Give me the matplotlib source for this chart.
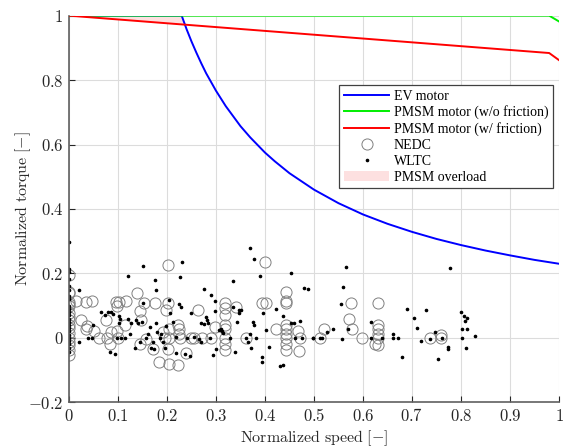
import matplotlib
matplotlib.use("Agg")
import matplotlib.pyplot as plt
import numpy as np
from matplotlib.patches import Patch
from matplotlib.lines import Line2D

# ---- data ----
ev_x = [0, 0.23, 0.235, 0.24, 0.25, 0.26, 0.27, 0.28, 0.3, 0.32, 0.35, 0.37, 0.4, 0.42, 0.45, 0.5, 0.55, 0.6,
        0.65, 0.7, 0.75, 0.8, 0.85, 0.9, 0.95, 1.0]
ev_y = [1, 1, 0.979, 0.958, 0.92, 0.885, 0.852, 0.821, 0.767, 0.719, 0.657, 0.622, 0.575, 0.548, 0.511, 0.46,
        0.418, 0.383, 0.354, 0.329, 0.307, 0.288, 0.271, 0.256, 0.242, 0.23]
pm_x = [0, 0.98, 1.0]
pm_y = [1, 1, 0.982]
pmf_x = [0, 0.98, 1.0]
pmf_y = [1, 0.884, 0.862]

nedc_x = [0]*17 + [0.014, 0.034, 0.046, 0.024, 0.037, 0.034, 0.052, 0.061, 0.078, 0.076, 0.086, 0.083,
          0.095, 0.097, 0.103, 0.116, 0.114, 0.098, 0.1, 0.139, 0.144, 0.148, 0.154, 0.144, 0.158,
          0.175, 0.171, 0.184, 0.192, 0.195, 0.202, 0.202, 0.199, 0.205, 0.205, 0.202, 0.204, 0.222,
          0.222, 0.224, 0.224, 0.226, 0.239, 0.25, 0.263, 0.256, 0.271, 0.289, 0.297, 0.318, 0.318,
          0.318, 0.318, 0.318, 0.318, 0.318, 0.318, 0.341, 0.362, 0.393, 0.403, 0.401, 0.423,
          0.442, 0.442, 0.442, 0.442, 0.442, 0.442, 0.442, 0.442, 0.442, 0.468, 0.471, 0.469, 0.512,
          0.521, 0.576, 0.572, 0.578, 0.599, 0.631, 0.631, 0.631, 0.631, 0.631, 0.624, 0.631, 0.737,
          0.759, 0.759]
nedc_y = [0.195, 0.143, 0.14, 0.11, 0.105, 0.1, 0.078, 0.065, 0.055, 0.04, 0.03, 0.015, 0, -0.012, -0.023, -0.038, -0.054,
          0.115, 0.112, 0.115, 0.055, 0.036, 0.026, 0.022, 0, 0, 0.055, 0.019, -0.018,
          0.112, 0.098, 0.112, 0.115, 0.039, 0.022, 0, 0.138, 0.084, 0.055, 0.109, -0.018, -0.005,
          0.109, -0.036, -0.075, 0.019, 0, 0.226, 0.107, 0.088, 0.026, 0, -0.036, -0.08, -0.085,
          0.039, 0.026, 0.013, 0, -0.047, 0, 0.086, 0, 0, 0, 0.034, 0.109, 0.094,
          0.07, 0.039, 0.026, 0, -0.018, -0.038, 0.096, 0, 0.109, 0.109, 0.236, 0.026,
          0.143, 0.115, 0.109, 0.039, 0.026, 0.013, 0, -0.018, -0.038, 0.022, 0, -0.041, 0,
          0.026, 0.109, 0.057, 0.026, 0, 0.109, 0.039, 0.026, 0.013, 0, -0.018, -0.023, 0,
          0.008, 0]

wltc_x = [0]*23 + [0.02, 0.02, 0.039, 0.046, 0.049, 0.066, 0.073, 0.08, 0.086, 0.09, 0.083, 0.093, 0.097,
          0.103, 0.103, 0.105, 0.107, 0.114, 0.12, 0.12, 0.124, 0.127, 0.134, 0.137, 0.141, 0.144, 0.15,
          0.151, 0.152, 0.158, 0.161, 0.165, 0.168, 0.171, 0.173, 0.175, 0.177, 0.178, 0.18, 0.185, 0.188,
          0.192, 0.195, 0.199, 0.205, 0.207, 0.212, 0.219, 0.219, 0.224, 0.226, 0.229, 0.231, 0.236, 0.241,
          0.246, 0.25, 0.256, 0.265, 0.269, 0.275, 0.27, 0.275, 0.28, 0.282, 0.284, 0.287, 0.29, 0.293,
          0.299, 0.299, 0.301, 0.307, 0.311, 0.313, 0.314, 0.328, 0.335, 0.335, 0.338, 0.343, 0.347, 0.348,
          0.352, 0.361, 0.365, 0.369, 0.37, 0.372, 0.377, 0.376, 0.377, 0.382, 0.389, 0.393, 0.394, 0.395,
          0.403, 0.408, 0.423, 0.431,
          0.454, 0.437, 0.437, 0.453, 0.46, 0.461, 0.471, 0.475, 0.48, 0.488, 0.497, 0.499, 0.512, 0.516,
          0.526, 0.539, 0.555, 0.56, 0.565, 0.558, 0.57, 0.616, 0.616, 0.638, 0.662, 0.662, 0.671, 0.68,
          0.689, 0.705, 0.71, 0.718, 0.728, 0.737, 0.746, 0.754, 0.761, 0.773, 0.773, 0.778, 0.801, 0.807,
          0.808, 0.812, 0.802, 0.812, 0.803, 0.81, 0.829]
wltc_y = [0.298, 0.215, 0.205, 0.184, 0.16, 0.15, 0.13, 0.12, 0.1, 0.09, 0.08, 0.07, 0.06, 0.05, 0.04, 0.03,
          0.02, 0.01, 0, -0.01, -0.02, -0.03, -0.045,
          0.148, -0.012, 0, 0, 0.039, 0.081, 0.07, 0.081, 0.081, 0.074, -0.044, -0.049, 0,
          0.067, 0.045, 0.057, 0, 0, 0.193, 0.06, 0.013, 0.045, -0.033, 0.055, 0.045, -0.012, 0.05,
          0.223, 0.107, 0, 0.013, 0.034, -0.033, -0.012, -0.036, 0.179, 0.15, 0.045, 0.019, 0, 0.013,
          -0.012, -0.03, 0.036, 0.119, 0.076, 0.05, 0.003, -0.047, 0.104, 0.188, 0.096, 0.236, -0.049, 0,
          -0.057, 0.076, 0.003, -0.002, -0.012, 0.153, 0.047, 0.042, 0.065, 0.055, 0.045, 0, 0.133, -0.054,
          0.115, 0.084, -0.036, 0.024, 0.026, 0.022, 0.016, 0, 0.177, 0.096, -0.044, 0.049, 0.076, 0.088,
          0.088, 0, -0.012, 0.013, 0.28, -0.033, 0.244, 0.05, 0.039, 0, 0.192, -0.059, -0.075, 0.076,
          0.024, -0.028, 0.091, -0.088,
          0.202, 0.067, -0.085, 0.045, 0.045, 0, 0.053, 0, 0.155, 0.151, 0, 0, 0, 0,
          0.019, 0.026, 0.105, 0.159, 0.221, -0.002, 0.026, 0.05, 0, 0, 0.013, 0, 0, -0.059,
          0.091, 0.063, 0.031, -0.009, 0.086, -0.002, 0.019, -0.067, 0, -0.028, -0.036, 0.216, 0.081, 0.067,
          0.053, 0.063, 0.026, 0.026, 0, -0.033, 0.006]

xticks = [0, 0.1, 0.2, 0.3, 0.4, 0.5, 0.6, 0.7, 0.8, 0.9, 1]
yticks = [-0.2, 0, 0.2, 0.4, 0.6, 0.8, 1]
xtick_labels = ["0", "0.1", "0.2", "0.3", "0.4", "0.5", "0.6", "0.7", "0.8", "0.9", "1"]
ytick_labels = ["-0.2", "0", "0.2", "0.4", "0.6", "0.8", "1"]

plt.rcParams['mathtext.fontset'] = 'cm'
plt.rcParams['font.family'] = ['DejaVu Serif']

fig = plt.figure(figsize=(5.64, 4.47), dpi=100)
ax = fig.add_axes([0.1223, 0.1, 0.8688, 0.865])

# overload region
fx = np.linspace(0, 1, 600)
top = np.minimum(np.interp(fx, pm_x, pm_y), np.interp(fx, ev_x, ev_y))
bot = np.interp(fx, pmf_x, pmf_y)
ax.fill_between(fx, bot, top, where=top > bot, color='#fde0e0', lw=0, zorder=1)

ax.plot(ev_x, ev_y, color='#0000ff', lw=1.4, zorder=3)
ax.plot(pm_x, pm_y, color='#00ee00', lw=1.4, zorder=3)
ax.plot(pmf_x, pmf_y, color='#ff0000', lw=1.4, zorder=3)
ax.plot(nedc_x, nedc_y, 'o', ms=8, mfc='none', mec='#808080', mew=0.7, zorder=2)
ax.plot(wltc_x, wltc_y, '.', ms=3.2, color='black', zorder=2.5)

ax.set_xlim(0, 1)
ax.set_ylim(-0.2, 1)
ax.set_xticks(xticks)
ax.set_yticks(yticks)
ax.set_xticklabels([r'$%s$' % t for t in xtick_labels], fontsize=12)
ax.set_yticklabels([r'$%s$' % t for t in ytick_labels], fontsize=12)
ax.tick_params(direction='in', length=4, width=0.8, colors='#262626', labelcolor='#262626', pad=4)
ax.grid(True, color='#dcdcdc', lw=0.8)
ax.set_axisbelow(True)
for s in ['top', 'right']:
    ax.spines[s].set_visible(False)
for s in ['left', 'bottom']:
    ax.spines[s].set_color('#606060')
    ax.spines[s].set_linewidth(1.2)

ax.set_xlabel(r'$\mathrm{Normalized\ speed\ [\mathbf{-}]}$', fontsize=11.5, color='#262626')
ax.set_ylabel(r'$\mathrm{Normalized\ torque\ [\mathbf{-}]}$', fontsize=11.5, color='#262626')
ax.xaxis.set_label_coords(0.5, -0.067)
ax.yaxis.set_label_coords(-0.0735, 0.5)

handles = [
    Line2D([], [], color='#0000ff', lw=1.4),
    Line2D([], [], color='#00ee00', lw=1.4),
    Line2D([], [], color='#ff0000', lw=1.4),
    Line2D([], [], ls='none', marker='o', ms=8, mfc='none', mec='#808080', mew=0.7),
    Line2D([], [], ls='none', marker='.', ms=3.2, color='black'),
    Patch(facecolor='#fde0e0', edgecolor='none'),
]
labels = ['EV motor', 'PMSM motor (w/o friction)', 'PMSM motor (w/ friction)', 'NEDC', 'WLTC', 'PMSM overload']
leg = ax.legend(handles, labels, loc='upper right', bbox_to_anchor=(0.988, 0.821),
                prop={'family': 'Liberation Serif', 'size': 10}, fancybox=False,
                framealpha=1, edgecolor='#404040', handlelength=3.2, borderpad=0.35,
                labelspacing=0.2, handletextpad=0.35, borderaxespad=0)
leg.get_frame().set_linewidth(0.9)

fig.savefig('out.png', dpi=100)
